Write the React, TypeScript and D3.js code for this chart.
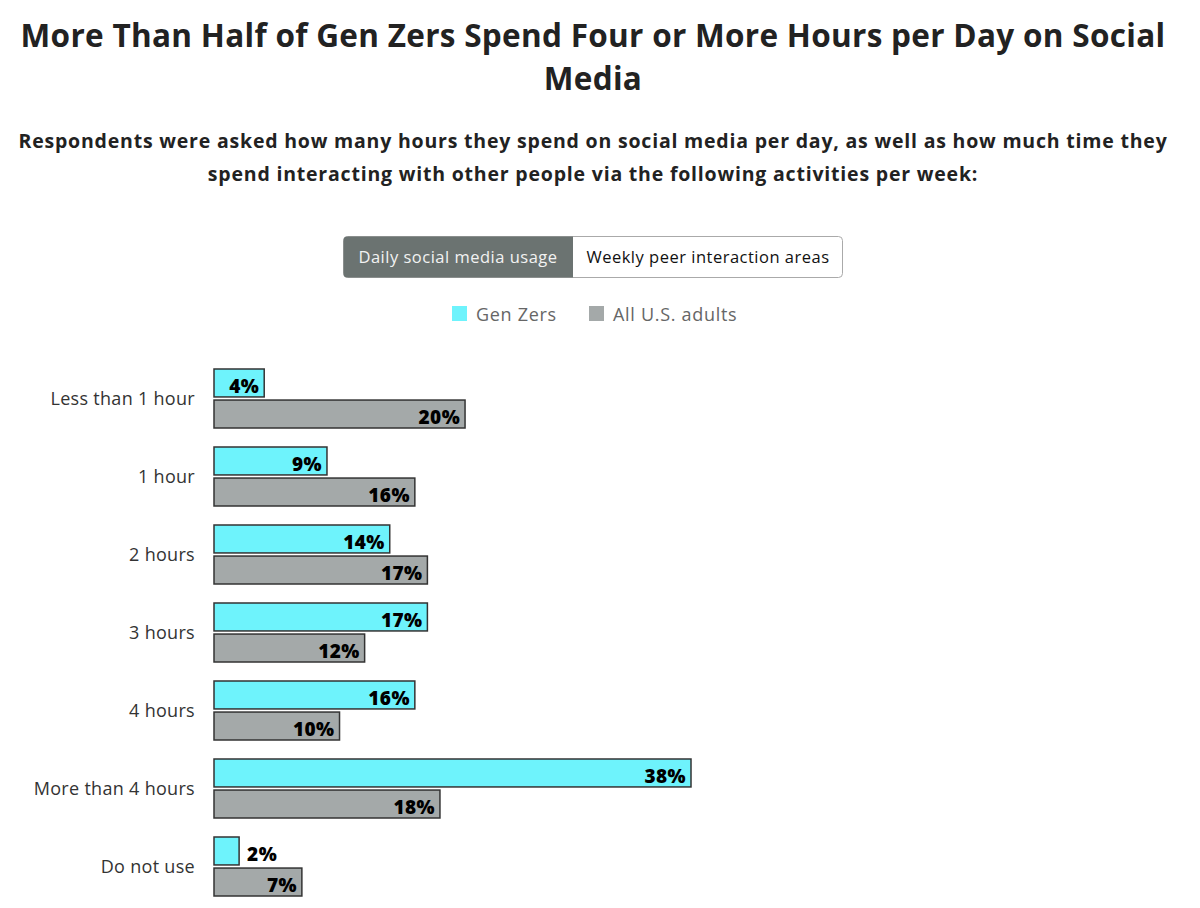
import React from 'react';
import * as d3 from 'd3';

const categories = ['Less than 1 hour', '1 hour', '2 hours', '3 hours', '4 hours', 'More than 4 hours', 'Do not use'];
const genZ = [4, 9, 14, 17, 16, 38, 2];
const adults = [20, 16, 17, 12, 10, 18, 7];
const seriesNames = ['Gen Zers', 'All U.S. adults'];
const seriesColors = ['#6ef3fc', '#a4a9a9'];
const toggleLabels = ['Daily social media usage', 'Weekly peer interaction areas'];

const W = 1200;
const H = 908;
const FONT = '"Open Sans", Lato, sans-serif';

export default function App() {
  const x = d3.scaleLinear().domain([0, 38]).range([214, 691]);
  const y = d3.scaleBand<string>().domain(categories).range([369, 369 + 78 * categories.length]).paddingInner(0);
  const inner = d3.scaleBand<string>().domain(seriesNames).range([0, 59]).paddingInner(0.1);

  const rows = categories.map((c, i) => ({ c, vals: [genZ[i], adults[i]] }));

  return (
    <svg width={W} height={H} style={{ position: 'absolute', left: 0, top: 0, background: '#fff' }} fontFamily={FONT}>
      {/* title */}
      <g fill="#222" fontWeight={700} fontSize={31.5} textAnchor="middle" letterSpacing={0.3}>
        <text x={593} y={47}>More Than Half of Gen Zers Spend Four or More Hours per Day on Social</text>
        <text x={593} y={90}>Media</text>
      </g>
      <g fill="#222" fontWeight={700} fontSize={19.5} textAnchor="middle" letterSpacing={0.8}>
        <text x={593} y={148}>Respondents were asked how many hours they spend on social media per day, as well as how much time they</text>
        <text x={593} y={181}>spend interacting with other people via the following activities per week:</text>
      </g>

      {/* toggle */}
      <g letterSpacing={0.5}>
        <rect x={343.5} y={236.5} width={499} height={41} rx={4} fill="#fff" stroke="#aaa" />
        <path d="M347.5,236.5 H573 V277.5 H347.5 A4,4 0 0 1 343.5,273.5 V240.5 A4,4 0 0 1 347.5,236.5 Z" fill="#6b7371" />
        <text x={458} y={263} textAnchor="middle" fontSize={16.5} fill="#f2f2f2">{toggleLabels[0]}</text>
        <text x={708} y={263} textAnchor="middle" fontSize={16.5} fill="#111">{toggleLabels[1]}</text>
      </g>

      {/* legend */}
      <g fontSize={18} fill="#666" letterSpacing={0.7}>
        <rect x={452} y={306} width={15} height={15} fill={seriesColors[0]} />
        <text x={476} y={321}>{seriesNames[0]}</text>
        <rect x={589} y={306} width={15} height={15} fill={seriesColors[1]} />
        <text x={613} y={321}>{seriesNames[1]}</text>
      </g>

      {/* bars */}
      {rows.map((r) => {
        const y0 = y(r.c)!;
        return (
          <g key={r.c}>
            <text x={195} y={y0 + 29.5} dy="0.35em" textAnchor="end" fontSize={18} fill="#333" letterSpacing={0.3}>{r.c}</text>
            {r.vals.map((v, j) => {
              const by = y0 + inner(seriesNames[j])!;
              const bh = inner.bandwidth();
              const w = x(v) - x(0);
              const outside = w < 40;
              return (
                <g key={j}>
                  <rect x={x(0)} y={by} width={w} height={bh} fill={seriesColors[j]} stroke="#333" strokeWidth={1.5} />
                  <text
                    x={outside ? x(v) + 8 : x(v) - 5}
                    y={by + bh - 4}
                    textAnchor={outside ? 'start' : 'end'}
                    fontWeight={800}
                    fontSize={19}
                    letterSpacing={0.4}
                    fill="#000"
                  >
                    {v}%
                  </text>
                </g>
              );
            })}
          </g>
        );
      })}
    </svg>
  );
}
